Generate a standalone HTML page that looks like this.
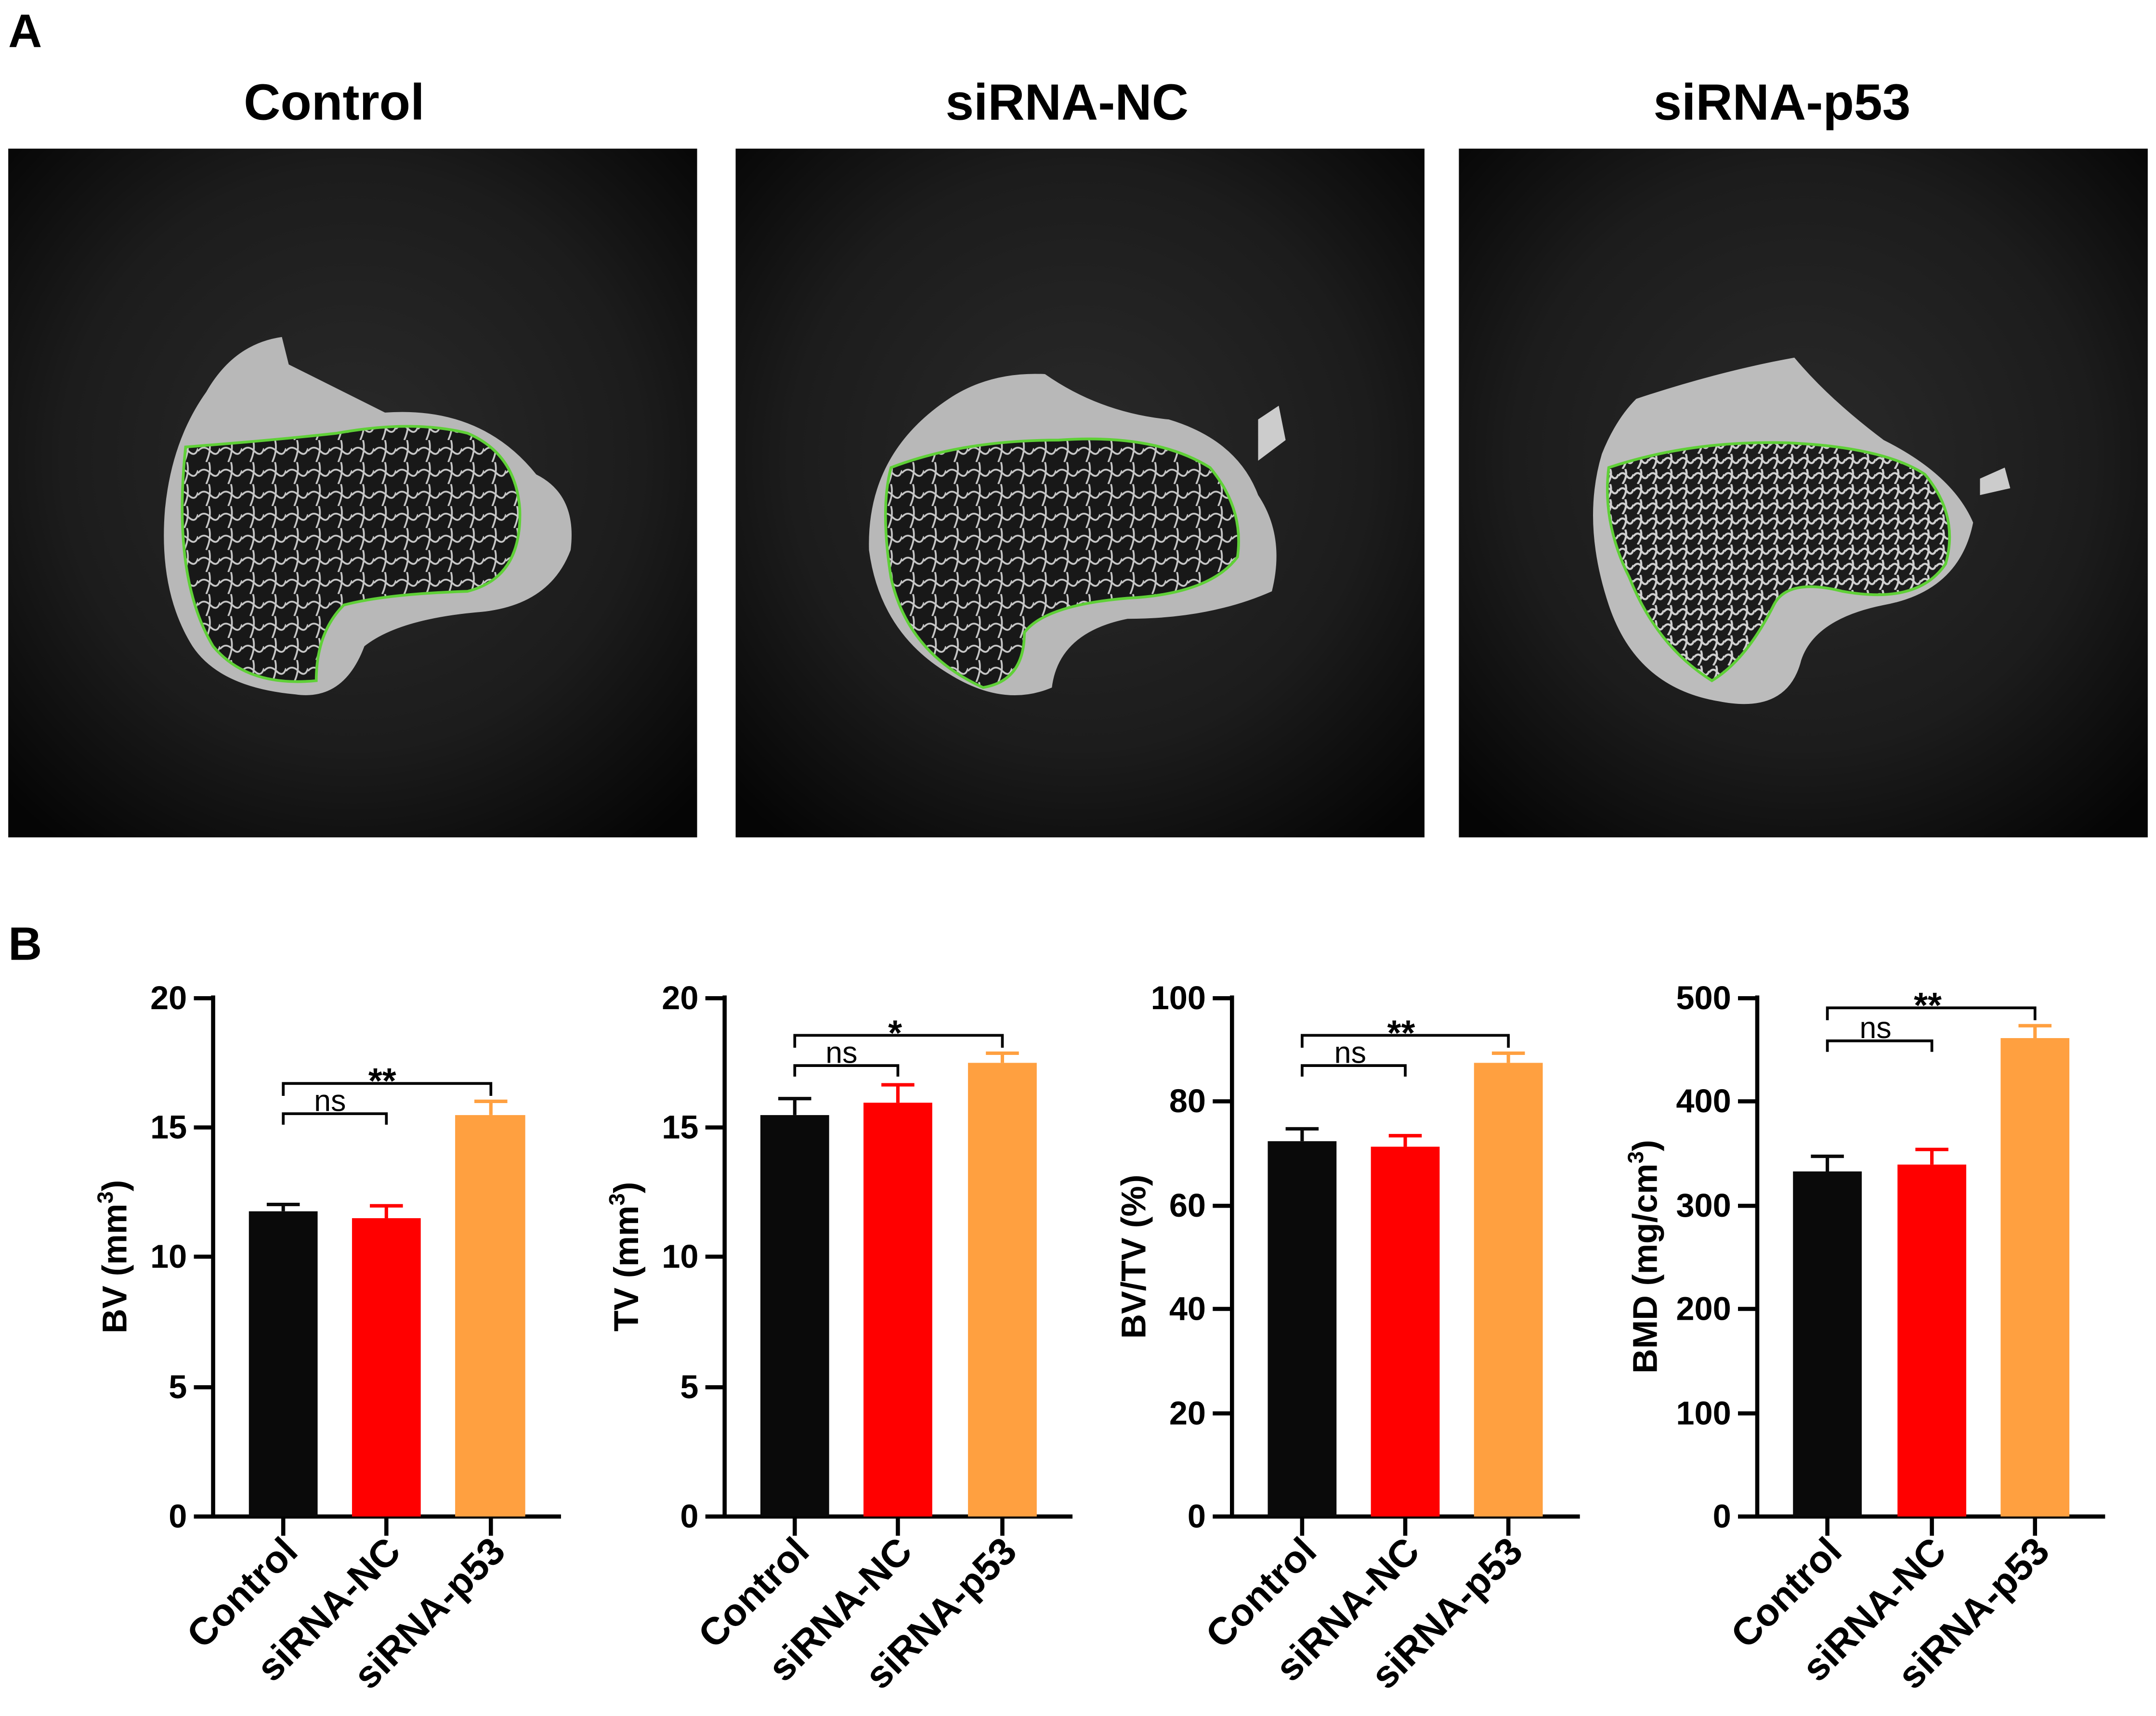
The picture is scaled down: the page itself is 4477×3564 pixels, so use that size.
<!DOCTYPE html>
<html><head><meta charset="utf-8"><style>
html,body{margin:0;padding:0;background:#fff}
svg{display:block}
text{font-family:"Liberation Sans",Arial,sans-serif;font-weight:bold;fill:#000}
</style></head><body>
<svg width="4477" height="3564" viewBox="0 0 1568 1248" xmlns="http://www.w3.org/2000/svg">
<defs>
<radialGradient id="bg" cx="50%" cy="45%" r="70%">
<stop offset="0" stop-color="#2a2a2a"/><stop offset="0.6" stop-color="#1c1c1c"/><stop offset="1" stop-color="#050505"/>
</radialGradient>
<pattern id="tb" width="16" height="16" patternUnits="userSpaceOnUse">
<rect width="16" height="16" fill="#181818"/>
<path d="M0 8 Q4 3 9 8 T16 6 M8 0 Q10 7 6 16" stroke="#c8c8c8" stroke-width="1.3" fill="none"/>
</pattern>
<pattern id="tb2" width="11" height="11" patternUnits="userSpaceOnUse">
<rect width="11" height="11" fill="#1c1c1c"/>
<path d="M0 5 Q3 1 6 5 T11 4 M5 0 Q7 5 3 11" stroke="#d0d0d0" stroke-width="1.5" fill="none"/>
</pattern>
</defs>
<rect width="1568" height="1248" fill="#fff"/>
<text x="6" y="34" font-size="34">A</text>
<text x="243" y="87" font-size="37" text-anchor="middle">Control</text>
<text x="776" y="87" font-size="37" text-anchor="middle">siRNA-NC</text>
<text x="1296" y="87" font-size="37" text-anchor="middle">siRNA-p53</text>

<!-- panel 1 -->
<rect x="6" y="108" width="501" height="501" fill="url(#bg)"/>
<path d="M150 285 Q170 250 205 245 L210 265 Q240 280 280 300 Q350 295 390 345 Q420 360 415 400 Q400 440 350 445 Q290 450 265 470 Q250 510 215 505 Q160 500 140 470 Q115 430 120 370 Q125 320 150 285Z" fill="#b8b8b8"/>
<path d="M135 325 Q200 320 245 315 Q300 305 340 315 Q375 330 378 370 Q380 420 340 430 Q280 432 250 440 Q230 460 230 495 Q180 500 155 470 Q125 420 135 325Z" fill="url(#tb)" stroke="#5fd037" stroke-width="2"/>
<!-- panel 2 -->
<rect x="535" y="108" width="501" height="501" fill="url(#bg)"/>
<path d="M690 290 Q720 270 760 272 Q800 300 850 305 Q900 320 915 360 Q935 390 925 430 Q880 450 820 450 Q770 460 765 500 Q730 515 690 490 Q640 460 632 400 Q630 330 690 290Z" fill="#b8b8b8"/>
<path d="M915 305 L930 295 L935 320 L915 335Z" fill="#ccc"/>
<path d="M648 340 Q700 320 770 320 Q840 315 880 340 Q905 370 900 405 Q880 432 820 435 Q760 440 745 460 Q745 495 715 500 Q660 475 648 420 Q640 370 648 340Z" fill="url(#tb)" stroke="#5fd037" stroke-width="2"/>
<!-- panel 3 -->
<rect x="1061" y="108" width="501" height="501" fill="url(#bg)"/>
<path d="M1190 290 Q1250 270 1305 260 Q1330 290 1370 320 Q1420 345 1435 380 Q1425 430 1370 440 Q1320 450 1310 480 Q1300 520 1250 510 Q1190 500 1170 440 Q1150 380 1165 330 Q1175 305 1190 290Z" fill="#bcbcbc"/>
<path d="M1440 348 L1458 340 L1462 355 L1440 360Z" fill="#ccc"/>
<path d="M1170 340 Q1230 320 1300 322 Q1370 325 1400 345 Q1425 375 1415 410 Q1395 440 1340 430 Q1300 420 1290 440 Q1270 480 1245 495 Q1205 470 1185 420 Q1165 380 1170 340Z" fill="url(#tb2)" stroke="#5fd037" stroke-width="2"/>

<text x="6" y="698" font-size="34">B</text>

<g stroke="#000" stroke-width="3" fill="none">
<path d="M155 724 V1103 H408"/><path d="M527 724 V1103 H780"/><path d="M896 724 V1103 H1149"/><path d="M1278 724 V1103 H1531"/>
</g>
<g stroke="#000" stroke-width="3">
<path d="M141 726H155M141 820H155M141 914H155M141 1009H155M141 1103H155"/>
<path d="M206 1103V1117M281 1103V1117M357 1103V1117"/>
<path d="M513 726H527M513 820H527M513 914H527M513 1009H527M513 1103H527"/>
<path d="M578 1103V1117M653 1103V1117M729 1103V1117"/>
<path d="M882 726H896M882 801H896M882 877H896M882 952H896M882 1028H896M882 1103H896"/>
<path d="M947 1103V1117M1022 1103V1117M1097 1103V1117"/>
<path d="M1264 726H1278M1264 801H1278M1264 877H1278M1264 952H1278M1264 1028H1278M1264 1103H1278"/>
<path d="M1329 1103V1117M1405 1103V1117M1480 1103V1117"/>
</g>
<g font-size="24" text-anchor="end">
<text x="136" y="734">20</text><text x="136" y="828">15</text><text x="136" y="922">10</text><text x="136" y="1017">5</text><text x="136" y="1111">0</text>
<text x="508" y="734">20</text><text x="508" y="828">15</text><text x="508" y="922">10</text><text x="508" y="1017">5</text><text x="508" y="1111">0</text>
<text x="877" y="734">100</text><text x="877" y="809">80</text><text x="877" y="885">60</text><text x="877" y="960">40</text><text x="877" y="1036">20</text><text x="877" y="1111">0</text>
<text x="1259" y="734">500</text><text x="1259" y="809">400</text><text x="1259" y="885">300</text><text x="1259" y="960">200</text><text x="1259" y="1036">100</text><text x="1259" y="1111">0</text>
</g>
<g font-size="25" text-anchor="middle">
<text transform="translate(92,914) rotate(-90)">BV (mm<tspan font-size="16" dy="-10">3</tspan><tspan dy="10">)</tspan></text>
<text transform="translate(464,914) rotate(-90)">TV (mm<tspan font-size="16" dy="-10">3</tspan><tspan dy="10">)</tspan></text>
<text transform="translate(833,914) rotate(-90)">BV/TV (%)</text>
<text transform="translate(1205,914) rotate(-90)">BMD (mg/cm<tspan font-size="16" dy="-10">3</tspan><tspan dy="10">)</tspan></text>
</g>
<g>
<rect x="181" y="881" width="50" height="222" fill="#0a0a0a"/><rect x="256" y="886" width="50" height="217" fill="#ff0000"/><rect x="331" y="811" width="51" height="292" fill="#ffa040"/>
<rect x="553" y="811" width="50" height="292" fill="#0a0a0a"/><rect x="628" y="802" width="50" height="301" fill="#ff0000"/><rect x="704" y="773" width="50" height="330" fill="#ffa040"/>
<rect x="922" y="830" width="50" height="273" fill="#0a0a0a"/><rect x="997" y="834" width="50" height="269" fill="#ff0000"/><rect x="1072" y="773" width="50" height="330" fill="#ffa040"/>
<rect x="1304" y="852" width="50" height="251" fill="#0a0a0a"/><rect x="1380" y="847" width="50" height="256" fill="#ff0000"/><rect x="1455" y="755" width="50" height="348" fill="#ffa040"/>
</g>
<g stroke-width="2.5" fill="none">
<path d="M206 881V876M194 876H218" stroke="#0a0a0a"/>
<path d="M281 886V877M269 877H293" stroke="#ff0000"/>
<path d="M357 811V801M345 801H369" stroke="#ffa040"/>
<path d="M578 811V799M566 799H590" stroke="#0a0a0a"/>
<path d="M653 802V789M641 789H665" stroke="#ff0000"/>
<path d="M729 773V766M717 766H741" stroke="#ffa040"/>
<path d="M947 830V821M935 821H959" stroke="#0a0a0a"/>
<path d="M1022 834V826M1010 826H1034" stroke="#ff0000"/>
<path d="M1097 773V766M1085 766H1109" stroke="#ffa040"/>
<path d="M1329 852V841M1317 841H1341" stroke="#0a0a0a"/>
<path d="M1405 847V836M1393 836H1417" stroke="#ff0000"/>
<path d="M1480 755V746M1468 746H1492" stroke="#ffa040"/>
</g>
<g stroke="#000" stroke-width="2" fill="none">
<path d="M206 818V810H281V818"/><path d="M206 797V788H357V797"/>
<path d="M578 783V775H653V783"/><path d="M578 762V753H729V762"/>
<path d="M947 783V775H1022V783"/><path d="M947 762V753H1097V762"/>
<path d="M1329 765V757H1405V765"/><path d="M1329 742V733H1480V742"/>
</g>
<g font-size="22" text-anchor="middle">
<text x="240" y="808" style="font-weight:normal">ns</text>
<text x="612" y="773" style="font-weight:normal">ns</text>
<text x="982" y="773" style="font-weight:normal">ns</text>
<text x="1364" y="755" style="font-weight:normal">ns</text>
</g>
<g font-size="26" text-anchor="middle">
<text x="278" y="795">**</text><text x="651" y="760">*</text><text x="1019" y="760">**</text><text x="1402" y="740">**</text>
</g>
<g font-size="28" text-anchor="end">
<text transform="translate(218,1130) rotate(-45)">Control</text>
<text transform="translate(293,1130) rotate(-45)">siRNA-NC</text>
<text transform="translate(369,1130) rotate(-45)">siRNA-p53</text>
<text transform="translate(590,1130) rotate(-45)">Control</text>
<text transform="translate(665,1130) rotate(-45)">siRNA-NC</text>
<text transform="translate(741,1130) rotate(-45)">siRNA-p53</text>
<text transform="translate(959,1130) rotate(-45)">Control</text>
<text transform="translate(1034,1130) rotate(-45)">siRNA-NC</text>
<text transform="translate(1109,1130) rotate(-45)">siRNA-p53</text>
<text transform="translate(1341,1130) rotate(-45)">Control</text>
<text transform="translate(1417,1130) rotate(-45)">siRNA-NC</text>
<text transform="translate(1492,1130) rotate(-45)">siRNA-p53</text>
</g>
</svg>
</body></html>
